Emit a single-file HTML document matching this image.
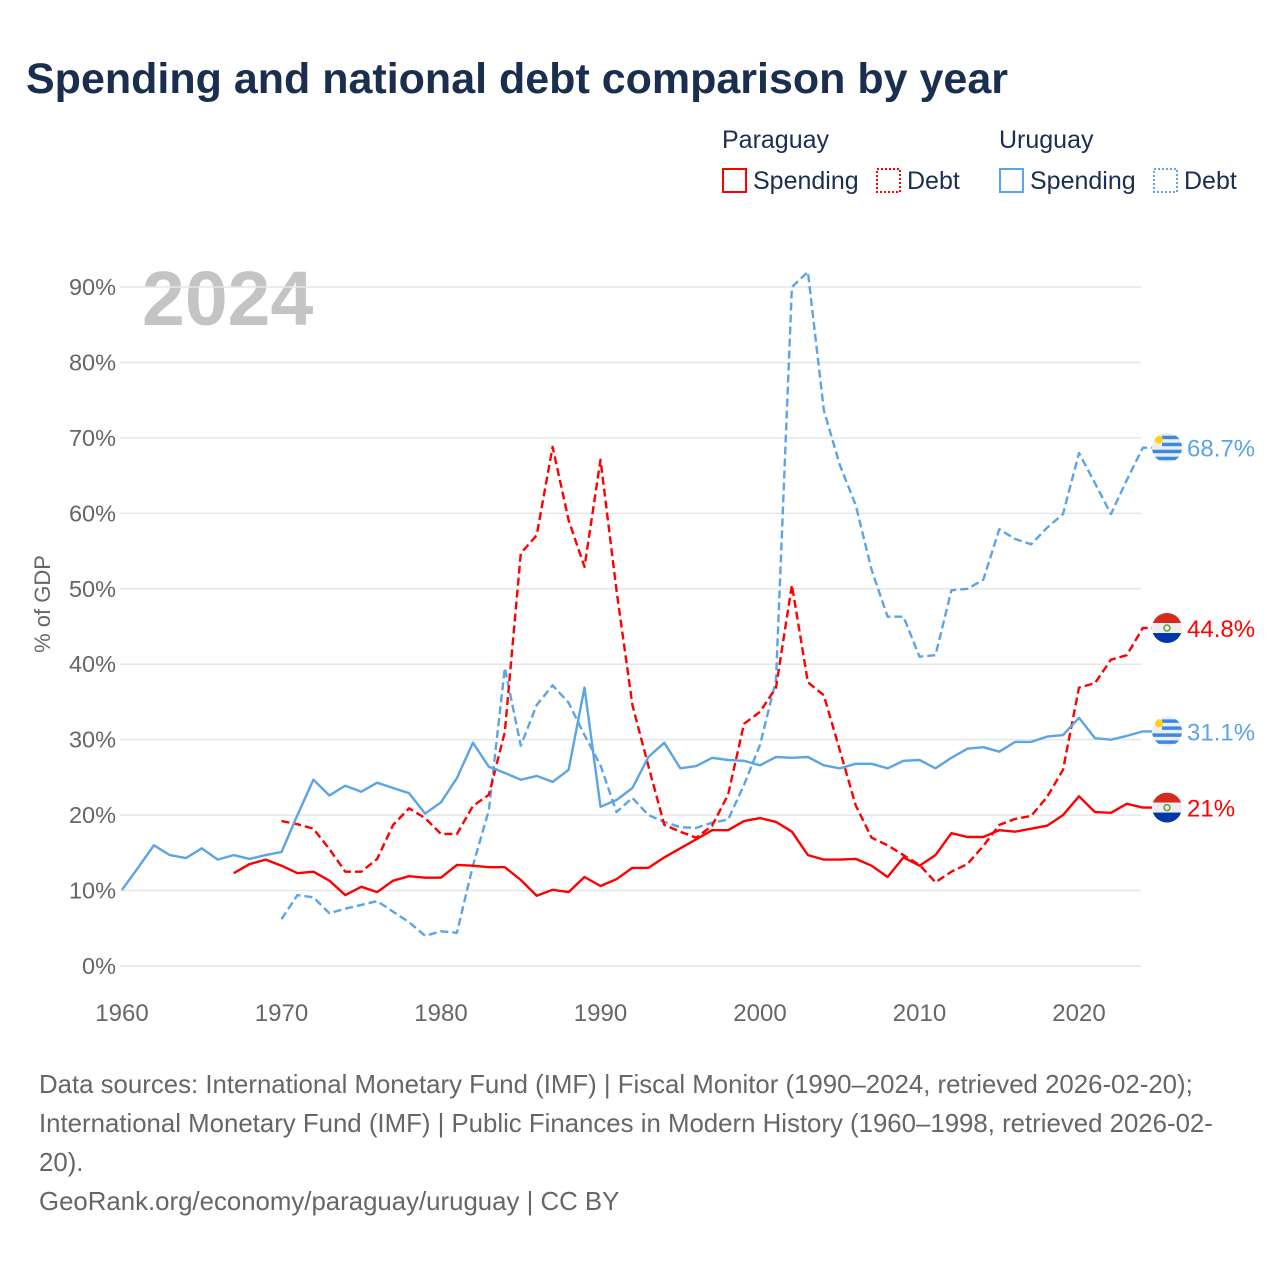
<!DOCTYPE html>
<html><head><meta charset="utf-8"><style>
body{margin:0;background:#fff;font-family:"Liberation Sans",sans-serif;}
#wrap{position:relative;width:1280px;height:1280px;overflow:hidden;}
</style></head><body>
<div id="wrap">
<svg id="chart" width="1280" height="1280" xmlns="http://www.w3.org/2000/svg">
<text x="26" y="93" font-size="43" font-weight="bold" fill="#1a2e4f">Spending and national debt comparison by year</text>
<g font-size="25" fill="#1a2e4f">
<text x="722" y="148">Paraguay</text>
<text x="999" y="148">Uruguay</text>
<g><rect x="723" y="169" width="23" height="23" fill="none" stroke="#ff0000" stroke-width="2"/><text x="753" y="189">Spending</text></g>
<g><rect x="877" y="169" width="23" height="23" fill="none" stroke="#ff0000" stroke-width="2" stroke-dasharray="2,2"/><text x="907" y="189">Debt</text></g>
<g><rect x="1000" y="169" width="23" height="23" fill="none" stroke="#5ba4e6" stroke-width="2"/><text x="1030" y="189">Spending</text></g>
<g><rect x="1154" y="169" width="23" height="23" fill="none" stroke="#5ba4e6" stroke-width="2" stroke-dasharray="2,2"/><text x="1184" y="189">Debt</text></g>
</g>
<text x="142" y="325" font-size="77" font-weight="bold" fill="#c4c4c4">2024</text>
<text transform="translate(50,604) rotate(-90)" text-anchor="middle" font-size="22" fill="#666">% of GDP</text>
<g id="grid"></g><g id="series"></g><g id="ends"></g>
<g font-size="25.8" fill="#666">
<text x="39" y="1093">Data sources: International Monetary Fund (IMF) | Fiscal Monitor (1990–2024, retrieved 2026-02-20);</text>
<text x="39" y="1132">International Monetary Fund (IMF) | Public Finances in Modern History (1960–1998, retrieved 2026-02-</text>
<text x="39" y="1171">20).</text>
<text x="39" y="1210">GeoRank.org/economy/paraguay/uruguay | CC BY</text>
</g>
</svg></div>
<script>
const yTicks=[0,10,20,30,40,50,60,70,80,90];
const xTicks=[1960,1970,1980,1990,2000,2010,2020];
const uySpendStart=1960;
const uySpend=[10.1,13,16.0,14.7,14.3,15.6,14.1,14.7,14.2,14.7,15.1,20,24.7,22.6,23.9,23.1,24.3,23.6,22.9,20.2,21.7,24.9,29.6,26.4,25.6,24.7,25.2,24.4,26.0,36.9,21.1,22.0,23.6,27.7,29.6,26.2,26.5,27.6,27.3,27.2,26.6,27.7,27.6,27.7,26.6,26.2,26.8,26.8,26.2,27.2,27.3,26.2,27.6,28.8,29.0,28.4,29.7,29.7,30.4,30.6,32.9,30.2,30.0,30.5,31.1];
const pySpendStart=1967;
const pySpend=[12.3,13.5,14.1,13.3,12.3,12.5,11.3,9.4,10.5,9.8,11.3,11.9,11.7,11.7,13.4,13.3,13.1,13.1,11.4,9.3,10.1,9.8,11.8,10.6,11.5,13.0,13.0,14.4,15.6,16.8,18.0,18.0,19.2,19.6,19.1,17.8,14.7,14.1,14.1,14.2,13.3,11.8,14.4,13.3,14.7,17.6,17.1,17.1,18.0,17.8,18.2,18.6,20.0,22.5,20.4,20.3,21.5,21.0];
const pyDebtStart=1970;
const pyDebt=[19.2,18.8,18.2,15.5,12.5,12.5,14.2,18.7,20.9,19.6,17.5,17.5,21.2,22.7,31,54.7,57.1,68.8,59.1,52.9,67.1,49.8,34.6,26.5,18.7,17.8,17.0,18.6,22.7,32.1,33.7,36.9,50.5,37.6,35.9,28.6,21.3,17.0,16.0,14.7,13.4,11.1,12.5,13.5,15.9,18.7,19.5,19.9,22.4,26.0,36.9,37.5,40.6,41.2,44.8];
const uyDebtStart=1970;
const uyDebt=[6.2,9.4,9.1,7.0,7.6,8.1,8.6,7.2,5.8,4.0,4.6,4.4,13.3,20.7,39.5,29.2,34.6,37.2,34.9,30.6,26.6,20.4,22.3,20.0,19.1,18.4,18.3,19.0,19.4,24.0,29.3,37.9,90.0,92.0,73.7,66.4,61.1,52.5,46.3,46.3,41.0,41.2,49.8,50.0,51.2,57.9,56.6,55.9,58.1,59.9,68.0,64.0,59.9,64.4,68.7];
const endLabels=["68.7%","44.8%","31.1%","21%"];

const NS="http://www.w3.org/2000/svg";
function X(yr){return 122+(yr-1960)*(1079-122)/60;}
function Y(v){return 966-v*(966-287)/90;}
function mk(tag,attrs,parent){const e=document.createElementNS(NS,tag);for(const k in attrs)e.setAttribute(k,attrs[k]);parent.appendChild(e);return e;}
const grid=document.getElementById('grid');
yTicks.forEach(t=>{
 const l=mk('line',{x1:120,x2:1141,y1:Y(t),y2:Y(t),stroke:'#e6e6e6','stroke-width':1.5},grid);
 
 
 const tx=mk('text',{x:116,y:Y(t)+8,'text-anchor':'end','font-size':23.5,fill:'#666'},grid);
 tx.textContent=t+'%';
 
 
});
xTicks.forEach(t=>{
 const tx=mk('text',{x:X(t),y:1021,'text-anchor':'middle','font-size':24,fill:'#666'},grid);
 tx.textContent=t;
 
 
});
const ser=document.getElementById('series');
function line(arr,start,color,dash,name){
 let d=arr.map((v,i)=>(i?'L':'M')+X(start+i).toFixed(1)+','+Y(v).toFixed(1)).join(' ');
 d+=' L1152,'+Y(arr[arr.length-1]).toFixed(1);
 const p=mk('path',{d:d,fill:'none',stroke:color,'stroke-width':2.4,'stroke-linejoin':'round'},ser);
 if(dash)p.setAttribute('stroke-dasharray','8,4');
 
 
}
const RED='#ff0000',BLUE='#5ba4e6';
line(uyDebt,uyDebtStart,BLUE,true,'uruguay-debt-line');
line(pyDebt,pyDebtStart,RED,true,'paraguay-debt-line');
line(uySpend,uySpendStart,BLUE,false,'uruguay-spending-line');
line(pySpend,pySpendStart,RED,false,'paraguay-spending-line');
const ends=document.getElementById('ends');
function flag(v,country,label,color,name){
 const cy=Y(v),cx=1167;
 const g=mk('g',{},ends);
 
 
 const id='c'+name;
 const cp=mk('clipPath',{id:id},g);mk('circle',{cx:cx,cy:cy,r:15},cp);
 const f=mk('g',{'clip-path':'url(#'+id+')'},g);
 if(country==='py'){
  mk('rect',{x:cx-15,y:cy-15,width:30,height:10,fill:'#d52b1e'},f);
  mk('rect',{x:cx-15,y:cy-5,width:30,height:10,fill:'#eeeeee'},f);
  mk('rect',{x:cx-15,y:cy+5,width:30,height:10,fill:'#0038a8'},f);
  mk('circle',{cx:cx,cy:cy,r:3,fill:'none',stroke:'#6a9a3a','stroke-width':1.5},f);
 } else {
  mk('rect',{x:cx-15,y:cy-15,width:30,height:30,fill:'#eeeeee'},f);
  for(let i=0;i<4;i++)mk('rect',{x:cx-15+(i<2?10:0),y:cy-12+i*7,width:30,height:3.5,fill:'#3a8be0'},f);
  mk('circle',{cx:cx-8,cy:cy-8,r:4,fill:'#fcd116'},f);
 }
 const t=mk('text',{x:1187,y:cy+9,'font-size':24,fill:color},g);
 t.textContent=label;
}
flag(uyDebt[uyDebt.length-1],'uy',endLabels[0],BLUE,'end-label-uruguay-debt');
flag(pyDebt[pyDebt.length-1],'py',endLabels[1],RED,'end-label-paraguay-debt');
flag(uySpend[uySpend.length-1],'uy',endLabels[2],BLUE,'end-label-uruguay-spending');
flag(pySpend[pySpend.length-1],'py',endLabels[3],RED,'end-label-paraguay-spending');
</script>
</body></html>
